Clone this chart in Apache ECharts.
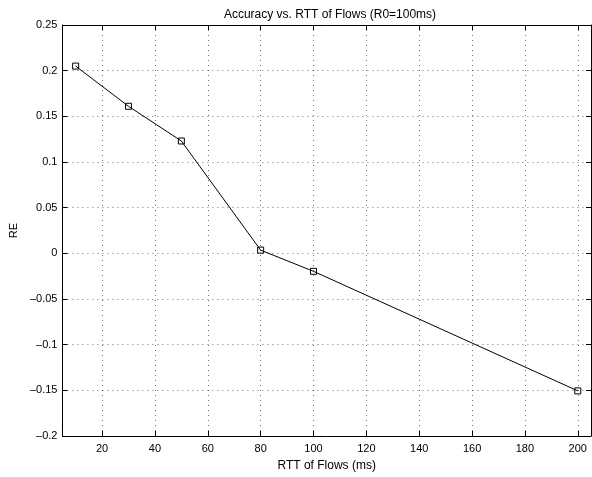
<!DOCTYPE html>
<html>
<head>
<meta charset="utf-8">
<script src="https://cdn.jsdelivr.net/npm/echarts@6/dist/echarts.min.js"></script>
<style>
  html, body { margin: 0; padding: 0; background: #fff; }
  #chart { width: 592px; height: 477px; }
</style>
</head>
<body>
<div id="chart"></div>
<script>
// RTT of flows (ms) and the measured relative error
const rttValues = [10, 30, 50, 80, 100, 200];
const reValues = [0.205, 0.161, 0.123, 0.0035, -0.0197, -0.1506];
const xTicks = [20, 40, 60, 80, 100, 120, 140, 160, 180, 200];
const yTicks = [-0.2, -0.15, -0.1, -0.05, 0, 0.05, 0.1, 0.15, 0.2, 0.25];

const FONT = 'Liberation Sans, Arial, Helvetica, sans-serif';
const fmtY = v => {
  const n = parseFloat(Number(v).toFixed(2));
  return n < 0 ? '\u2013' + String(-n) : String(n);
};
const dotted = { show: true, lineStyle: { color: '#000', width: 1, type: [1, 4], opacity: 0.55 } };
const tickIn = { show: true, inside: true, length: 5, lineStyle: { color: '#000', width: 1 } };

const chart = echarts.init(document.getElementById('chart'), null, { renderer: 'canvas' });
chart.setOption({
  animation: false,
  backgroundColor: '#fff',
  title: {
    text: 'Accuracy vs. RTT of Flows (R0=100ms)',
    left: 325, top: 4, textAlign: 'center',
    textStyle: { fontFamily: FONT, fontSize: 12, fontWeight: 'normal', color: '#000' }
  },
  grid: { left: 60, right: 1, top: 25, bottom: 32, containLabel: false },
  xAxis: [{
    type: 'value', min: 5, max: 205, position: 'bottom',
    name: 'RTT of Flows (ms)', nameLocation: 'middle', nameGap: 24,
    nameTextStyle: { fontFamily: FONT, fontSize: 12, color: '#000' },
    axisLine: { show: true, onZero: false, lineStyle: { color: '#000', width: 1 } },
    axisTick: Object.assign({ customValues: xTicks }, tickIn),
    axisLabel: { customValues: xTicks, fontFamily: FONT, fontSize: 11, color: '#000', margin: 7 },
    splitLine: dotted
  }, {
    type: 'value', min: 5, max: 205, position: 'top',
    axisLine: { show: true, onZero: false, lineStyle: { color: '#000', width: 1 } },
    axisTick: Object.assign({ customValues: xTicks }, tickIn),
    axisLabel: { show: false },
    splitLine: { show: false }
  }],
  yAxis: [{
    type: 'value', min: yTicks[0], max: yTicks[yTicks.length - 1], interval: 0.05, position: 'left',
    name: 'RE', nameLocation: 'middle', nameGap: 38, nameRotate: 90,
    nameTextStyle: { fontFamily: FONT, fontSize: 11, color: '#000' },
    axisLine: { show: true, onZero: false, lineStyle: { color: '#000', width: 1 } },
    axisTick: tickIn,
    axisLabel: { fontFamily: FONT, fontSize: 11, color: '#000', margin: 5, formatter: fmtY },
    splitLine: dotted
  }, {
    type: 'value', min: yTicks[0], max: yTicks[yTicks.length - 1], interval: 0.05, position: 'right',
    axisLine: { show: true, onZero: false, lineStyle: { color: '#000', width: 1 } },
    axisTick: tickIn,
    axisLabel: { show: false },
    splitLine: { show: false }
  }],
  series: [{
    type: 'line',
    xAxisIndex: 0, yAxisIndex: 0,
    data: rttValues.map((x, i) => [x, reValues[i]]),
    symbol: 'rect',
    symbolSize: 6,
    showAllSymbol: true,
    lineStyle: { color: '#000', width: 1 },
    itemStyle: { color: 'rgba(255,255,255,0)', borderColor: '#000', borderWidth: 1 },
    emphasis: { disabled: true }
  }]
});
</script>
</body>
</html>
